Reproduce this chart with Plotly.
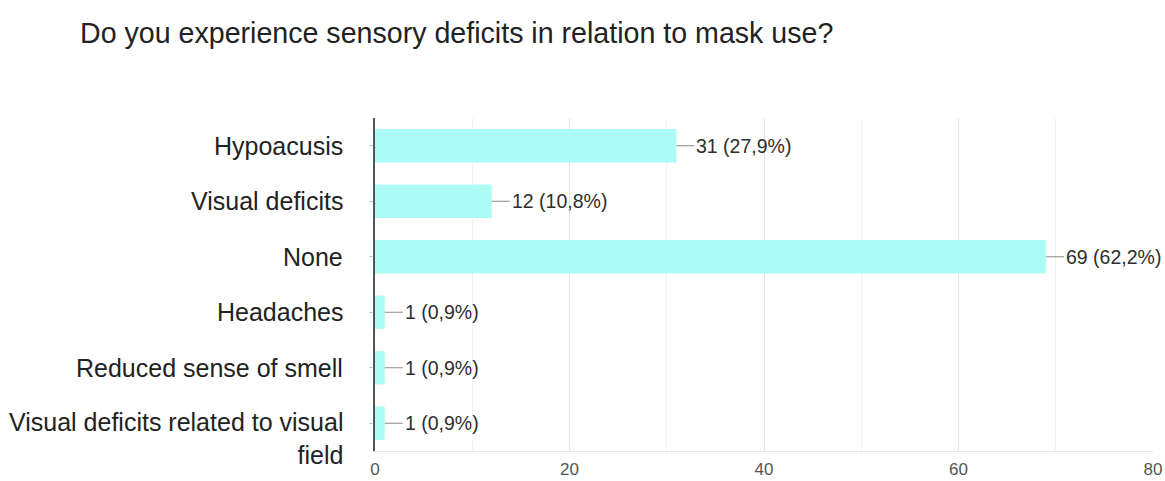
import plotly.graph_objects as go

# Survey responses
categories = [
    "Hypoacusis",
    "Visual deficits",
    "None",
    "Headaches",
    "Reduced sense of smell",
    "Visual deficits related to visual<br>field",
]
counts = [31, 12, 69, 1, 1, 1]
percent_labels = ["27,9%", "10,8%", "62,2%", "0,9%", "0,9%", "0,9%"]
x_ticks = [0, 20, 40, 60, 80]

W, H = 1165, 481
FONT = "Liberation Sans, Arial, sans-serif"
LABEL_SIZE = 25

fig = go.Figure(
    go.Bar(
        x=counts,
        y=categories,
        orientation="h",
        marker=dict(color="#aafcf4", line=dict(width=0)),
        width=0.6,
        hoverinfo="skip",
    )
)

# Value labels with short grey leader lines off the bar ends
for cat, n, pct in zip(categories, counts, percent_labels):
    fig.add_annotation(
        x=n, y=cat, xref="x", yref="y",
        text=f"{n} ({pct})",
        showarrow=True, arrowhead=0, arrowwidth=1, arrowcolor="#8a8a8a",
        ax=18, ay=0, xanchor="left",
        font=dict(family=FONT, size=19.5, color="#2e2e2e"),
    )

# Category labels, right-aligned left of the axis; wrapped labels hang
# downward from the first line
for cat in categories:
    n_lines = cat.count("<br>") + 1
    fig.add_annotation(
        x=0, y=cat, xref="paper", yref="y",
        text=cat, showarrow=False,
        xanchor="right", yanchor="middle", align="right",
        xshift=-30,
        yshift=-(n_lines - 1) * LABEL_SIZE * 1.25 / 2,
        font=dict(family=FONT, size=LABEL_SIZE, color="#222222"),
    )

fig.update_layout(
    width=W, height=H,
    margin=dict(l=375, r=12, t=118, b=30),
    paper_bgcolor="white",
    plot_bgcolor="white",
    showlegend=False,
    title=dict(
        text="Do you experience sensory deficits in relation to mask use?",
        x=80 / W, xref="container", xanchor="left",
        y=1 - 33 / H, yref="container", yanchor="middle",
        font=dict(family=FONT, size=28.6, color="#222222"),
    ),
    bargap=0.4,
)

fig.update_xaxes(
    range=[0, 80],
    tickvals=x_ticks,
    tickfont=dict(family=FONT, size=17, color="#555555"),
    showgrid=True, gridcolor="#e4e4e4", gridwidth=1,
    minor=dict(dtick=10, showgrid=True, gridcolor="#f2f2f2"),
    showline=True, linecolor="#e6e6e6", linewidth=1,
    zeroline=False,
    ticks="", ticklabelstandoff=3,
    automargin=False,
    fixedrange=True,
)
fig.update_yaxes(
    categoryorder="array", categoryarray=categories,
    autorange="reversed",
    showticklabels=False,
    showline=True, linecolor="#555555", linewidth=2,
    ticks="outside", ticklen=4, tickcolor="#cccccc",
    showgrid=False,
    automargin=False,
    fixedrange=True,
)

fig.write_html("out.html")
